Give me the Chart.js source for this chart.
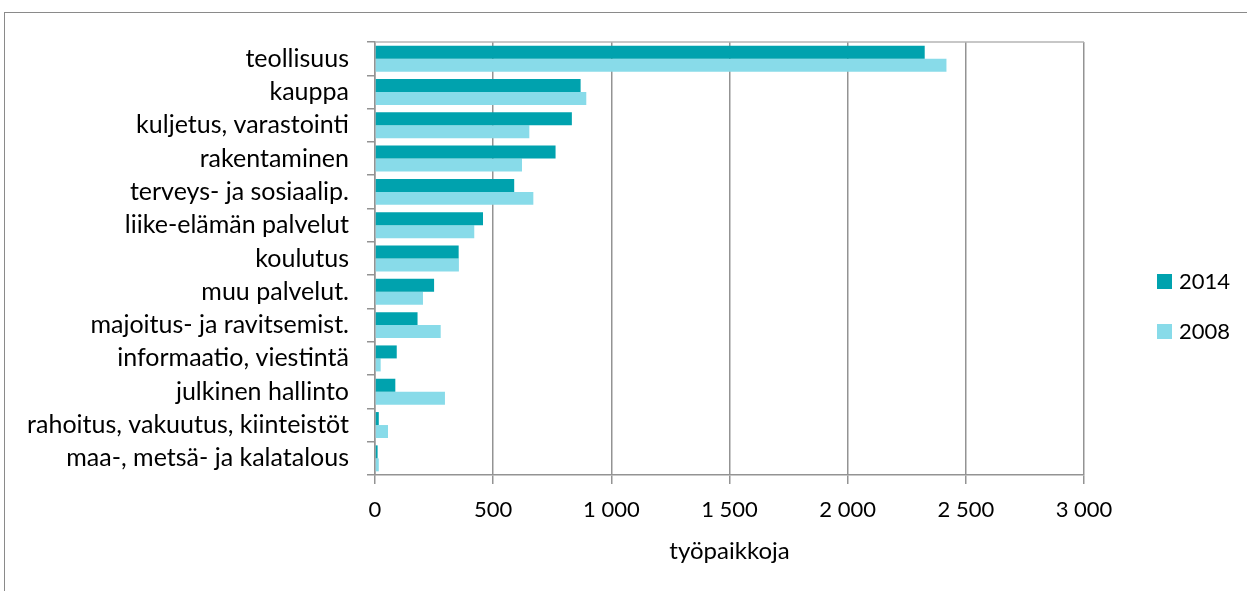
<!DOCTYPE html>
<html>
<head>
<meta charset="utf-8">
<script src="https://cdn.jsdelivr.net/npm/chart.js@4"></script>
<style>
  html, body { margin: 0; padding: 0; background: #fff; }
  #wrap { position: relative; width: 1247px; height: 591px; overflow: hidden; }
  #frame { position: absolute; left: 4px; top: 12px; width: 1300px; height: 700px; border: 1px solid #8a8a8a; box-sizing: border-box; }
  canvas { position: absolute; left: 0; top: 0; }
</style>
</head>
<body>
<div id="wrap">
  <div id="frame"></div>
  <canvas id="c" width="1247" height="591"></canvas>
</div>
<script>
const categories = [
  "teollisuus", "kauppa", "kuljetus, varastointi", "rakentaminen",
  "terveys- ja sosiaalip.", "liike-elämän palvelut", "koulutus", "muu palvelut.",
  "majoitus- ja ravitsemist.", "informaatio, viestintä", "julkinen hallinto",
  "rahoitus, vakuutus, kiinteistöt", "maa-, metsä- ja kalatalous"
];
const values2014 = [2326, 870, 833, 764, 589, 457, 354, 250, 180, 92, 86, 16, 11];
const values2008 = [2418, 894, 653, 622, 670, 420, 355, 203, 278, 24, 296, 55, 16];
const seriesNames = ["2014", "2008"];
const xTicks = [0, 500, 1000, 1500, 2000, 2500, 3000];
const axisTitle = "työpaikkoja";

const FONT = "Lato, 'Open Sans', sans-serif";
const colors = ["#00A2AE", "#88DBE9"];

const legendPlugin = {
  id: 'customLegend',
  afterDraw(chart) {
    const ctx = chart.ctx;
    ctx.save();
    ctx.font = "22px " + FONT;
    ctx.textBaseline = "middle";
    ctx.textAlign = "left";
    const ys = [281, 331];
    chart.data.datasets.forEach((ds, i) => {
      ctx.fillStyle = ds.backgroundColor;
      ctx.fillRect(1157, ys[i] - 7, 15, 15);
      ctx.fillStyle = "#000";
      ctx.fillText(ds.label, 1179, ys[i] + 1);
    });
    ctx.restore();
  }
};

const frameLines = {
  id: 'frameLines',
  beforeDatasetsDraw(chart) {
    const {ctx, chartArea} = chart;
    ctx.save();
    ctx.strokeStyle = "#b4b4b4";
    ctx.lineWidth = 1.5;
    ctx.beginPath();
    ctx.moveTo(chartArea.left, chartArea.top);
    ctx.lineTo(chartArea.right, chartArea.top);
    ctx.stroke();
    ctx.restore();
  }
};

new Chart(document.getElementById('c'), {
  type: 'bar',
  data: {
    labels: categories,
    datasets: [
      { label: seriesNames[0], data: values2014, backgroundColor: colors[0] },
      { label: seriesNames[1], data: values2008, backgroundColor: colors[1] }
    ]
  },
  plugins: [legendPlugin, frameLines],
  options: {
    indexAxis: 'y',
    responsive: false,
    animation: false,
    devicePixelRatio: 1,
    layout: { padding: { left: 0, right: 163, top: 42, bottom: 0 } },
    datasets: { bar: { categoryPercentage: 0.78, barPercentage: 1.0 } },
    plugins: { legend: { display: false }, tooltip: { enabled: false } },
    scales: {
      x: {
        min: 0, max: 3000,
        afterBuildTicks(scale) { scale.ticks = xTicks.map(v => ({ value: v })); },
        afterFit(scale) { scale.height = 116; },
        grid: { color: "#939393", lineWidth: 1.5, tickLength: 9, drawTicks: true },
        border: { display: true, color: "#939393", width: 1.5 },
        ticks: {
          color: "#000", padding: 13,
          font: { family: FONT, size: 22 },
          callback: (v) => v.toLocaleString('fi-FI').replace(/\u00a0/g, ' ')
        },
        title: {
          display: true, text: axisTitle, color: "#000",
          font: { family: FONT, size: 24 },
          padding: { top: 0, bottom: 25 }
        }
      },
      y: {
        afterFit(scale) { scale.width = 375; },
        grid: { display: true, drawOnChartArea: false, color: "#939393", lineWidth: 1.5, tickLength: 8, offset: true },
        border: { display: true, color: "#939393", width: 1.5 },
        ticks: { color: "#000", padding: 18, font: { family: FONT, size: 25 } }
      }
    }
  }
});
</script>
</body>
</html>
